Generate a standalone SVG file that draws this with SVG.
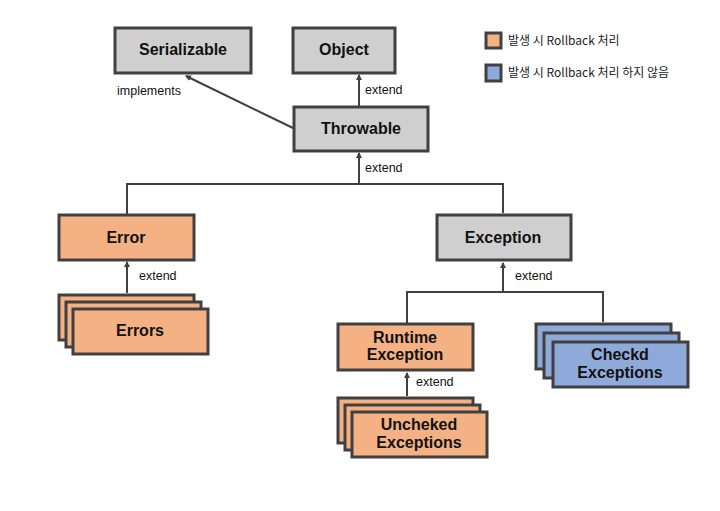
<svg xmlns="http://www.w3.org/2000/svg" width="720" height="511" viewBox="0 0 720 511">
<defs>
<style>
.box{stroke:#404040;stroke-width:3}
.gray{fill:#d0cfd0}
.org{fill:#f4b183}
.blue{fill:#8eaadb}
.t{font-family:"Liberation Sans","Noto Sans CJK KR",sans-serif;font-weight:bold;font-size:16px;fill:#111;text-anchor:middle}
.lbl{font-family:"Liberation Sans","Noto Sans CJK KR",sans-serif;font-size:12.5px;fill:#111}
.leg{font-family:"Noto Sans CJK KR",sans-serif;font-size:12px;fill:#222}
.c{stroke:#404040;stroke-width:2;fill:none}
</style>
<marker id="arr" viewBox="0 0 6 6" refX="5" refY="3" markerWidth="3" markerHeight="3" orient="auto">
<path d="M0,0 L6,3 L0,6 z" fill="#404040"/>
</marker>
</defs>
<rect width="720" height="511" fill="#ffffff"/>
<g id="connectors">
<line class="c" x1="293" y1="128" x2="186" y2="76" marker-end="url(#arr)"/>
<line class="c" x1="359" y1="106" x2="359" y2="75" marker-end="url(#arr)"/>
<line class="c" x1="359" y1="184" x2="359" y2="153" marker-end="url(#arr)"/>
<polyline class="c" points="127,214 127,184 503,184 503,213"/>
<line class="c" x1="127" y1="293" x2="127" y2="262" marker-end="url(#arr)"/>
<line class="c" x1="503" y1="292" x2="503" y2="263" marker-end="url(#arr)"/>
<polyline class="c" points="407,323 407,292 603,292 603,322"/>
<line class="c" x1="407" y1="396" x2="407" y2="373" marker-end="url(#arr)"/>
<text class="lbl" x="117" y="95">implements</text>
<text class="lbl" x="365" y="94">extend</text>
<text class="lbl" x="365" y="172">extend</text>
<text class="lbl" x="139" y="280">extend</text>
<text class="lbl" x="515" y="280">extend</text>
<text class="lbl" x="416" y="386">extend</text>
</g>
<g id="serializable">
<rect class="box gray" x="115" y="28" width="136" height="45"/>
<text class="t" x="183" y="55">Serializable</text>
</g>
<g id="object">
<rect class="box gray" x="293" y="28" width="102" height="45"/>
<text class="t" x="344" y="55">Object</text>
</g>
<g id="throwable">
<rect class="box gray" x="294" y="107" width="134" height="44"/>
<text class="t" x="361" y="134">Throwable</text>
</g>
<g id="error">
<rect class="box org" x="59" y="215" width="135" height="45"/>
<text class="t" x="126" y="243">Error</text>
</g>
<g id="exception">
<rect class="box gray" x="437" y="215" width="134" height="45"/>
<text class="t" x="503" y="243">Exception</text>
</g>
<g id="errors">
<rect class="box org" x="59" y="295" width="135" height="45"/>
<rect class="box org" x="66" y="302" width="135" height="45"/>
<rect class="box org" x="73" y="309" width="135" height="45"/>
<text class="t" x="140" y="336">Errors</text>
</g>
<g id="runtime-exception">
<rect class="box org" x="338" y="324" width="135" height="46"/>
<text class="t" x="405" y="343">Runtime</text>
<text class="t" x="405" y="360">Exception</text>
</g>
<g id="unchecked-exceptions">
<rect class="box org" x="338" y="398" width="135" height="45"/>
<rect class="box org" x="345" y="405" width="135" height="45"/>
<rect class="box org" x="352" y="412" width="135" height="45"/>
<text class="t" x="419" y="430">Uncheked</text>
<text class="t" x="419" y="448">Exceptions</text>
</g>
<g id="checked-exceptions">
<rect class="box blue" x="536" y="324" width="135" height="45"/>
<rect class="box blue" x="544" y="333" width="135" height="45"/>
<rect class="box blue" x="553" y="342" width="135" height="45"/>
<text class="t" x="620" y="360">Checkd</text>
<text class="t" x="620" y="378">Exceptions</text>
</g>
<g id="legend">
<rect class="box org" x="486" y="33" width="15" height="15"/>
<text class="leg" x="508" y="45">발생 시 Rollback 처리</text>
<rect class="box blue" x="486" y="65" width="15" height="16"/>
<text class="leg" x="508" y="77">발생 시 Rollback 처리 하지 않음</text>
</g>
</svg>
